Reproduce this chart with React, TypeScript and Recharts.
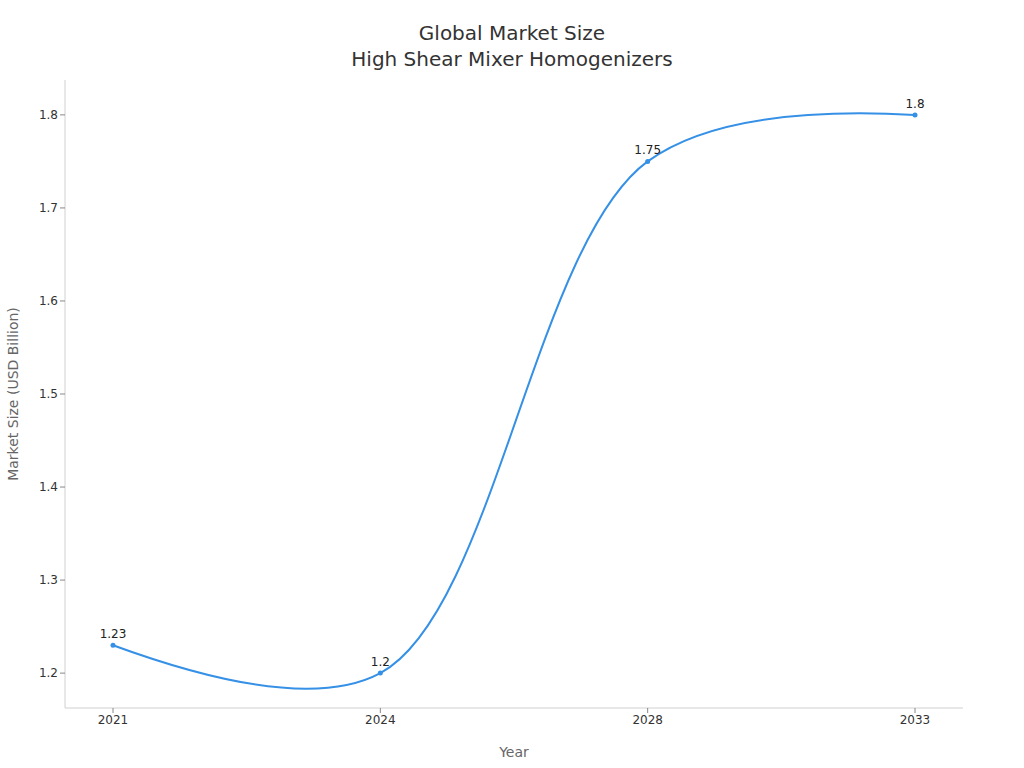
import React from 'react';
import { LineChart, Line, XAxis, YAxis, LabelList } from 'recharts';

const years = ['2021', '2024', '2028', '2033'];
const marketSize = [1.23, 1.2, 1.75, 1.8];
const yTicks = [1.2, 1.3, 1.4, 1.5, 1.6, 1.7, 1.8];

const data = years.map((year, i) => ({ year, value: marketSize[i] }));

const LINE_COLOR = '#3590e6';
const FONT = '"DejaVu Sans", sans-serif';

if (typeof document !== 'undefined') document.body.style.margin = '0';

// spline in pixel space: quadratic end segments, Catmull-Rom style tangents inside
const makeTangent = (p0: number[], p1: number[], p2: number[], smooth: number) => {
  const d1x = p0[0] - p1[0];
  const d1y = p0[1] - p1[1];
  const d2x = p2[0] - p1[0];
  const d2y = p2[1] - p1[1];
  const d1a = Math.pow(d1x * d1x + d1y * d1y, 0.25);
  const d2a = Math.pow(d2x * d2x + d2y * d2y, 0.25);
  const numx = (d2a * d2a * d1x - d1a * d1a * d2x) * smooth;
  const numy = (d2a * d2a * d1y - d1a * d1a * d2y) * smooth;
  const den1 = 3 * d2a * (d1a + d2a);
  const den2 = 3 * d1a * (d1a + d2a);
  return [
    [p1[0] + (den1 && numx / den1), p1[1] + (den1 && numy / den1)],
    [p1[0] - (den2 && numx / den2), p1[1] - (den2 && numy / den2)],
  ];
};

const smoothCurve = (context: any) => {
  let pts: number[][] = [];
  return {
    areaStart() {},
    areaEnd() {},
    lineStart() {
      pts = [];
    },
    point(x: number, y: number) {
      pts.push([+x, +y]);
    },
    lineEnd() {
      if (!pts.length) return;
      context.moveTo(pts[0][0], pts[0][1]);
      if (pts.length < 3) {
        pts.slice(1).forEach((p) => context.lineTo(p[0], p[1]));
        return;
      }
      const tangents: number[][][] = [];
      for (let i = 1; i < pts.length - 1; i++) {
        tangents.push(makeTangent(pts[i - 1], pts[i], pts[i + 1], 1));
      }
      context.quadraticCurveTo(tangents[0][0][0], tangents[0][0][1], pts[1][0], pts[1][1]);
      for (let i = 2; i < pts.length - 1; i++) {
        const a = tangents[i - 2][1];
        const b = tangents[i - 1][0];
        context.bezierCurveTo(a[0], a[1], b[0], b[1], pts[i][0], pts[i][1]);
      }
      const last = tangents[pts.length - 3][1];
      const end = pts[pts.length - 1];
      context.quadraticCurveTo(last[0], last[1], end[0], end[1]);
    },
  };
};

export default function App() {
  return (
    <div style={{ position: 'relative', width: 1024, height: 768, fontFamily: FONT, background: '#fff' }}>
      <div
        style={{
          position: 'absolute',
          top: 20,
          left: 0,
          width: 1024,
          textAlign: 'center',
          fontSize: 20,
          lineHeight: '26px',
          color: '#333',
        }}
      >
        Global Market Size
        <br />
        High Shear Mixer Homogenizers
      </div>
      <LineChart width={1024} height={768} data={data} margin={{ top: 80, right: 61, bottom: 0, left: 0 }}>
        <XAxis
          dataKey="year"
          padding={{ left: 48, right: 48 }}
          height={60}
          axisLine={{ stroke: '#d0d0d0' }}
          tickLine={{ stroke: '#888' }}
          tickSize={5}
          tick={{ fontSize: 12, fill: '#333', fontFamily: FONT }}
          label={{ value: 'Year', position: 'insideBottom', offset: 11, fontSize: 14, fill: '#666', fontFamily: FONT }}
        />
        <YAxis
          type="number"
          domain={[1.1625, 1.8375]}
          ticks={yTicks}
          width={65}
          axisLine={{ stroke: '#d0d0d0' }}
          tickLine={{ stroke: '#888' }}
          tickSize={5}
          tick={{ fontSize: 12, fill: '#333', fontFamily: FONT }}
          label={{
            value: 'Market Size (USD Billion)',
            angle: -90,
            position: 'insideLeft',
            offset: 13,
            style: { textAnchor: 'middle' },
            fontSize: 14,
            fill: '#666',
            fontFamily: FONT,
          }}
        />
        <Line
          dataKey="value"
          type={smoothCurve as any}
          stroke={LINE_COLOR}
          strokeWidth={2}
          dot={{ r: 2.5, fill: LINE_COLOR, stroke: LINE_COLOR, strokeWidth: 0 }}
          activeDot={false}
          isAnimationActive={false}
        >
          <LabelList dataKey="value" position="top" offset={7} fontSize={12} fill="#222" fontFamily={FONT} />
        </Line>
      </LineChart>
    </div>
  );
}
